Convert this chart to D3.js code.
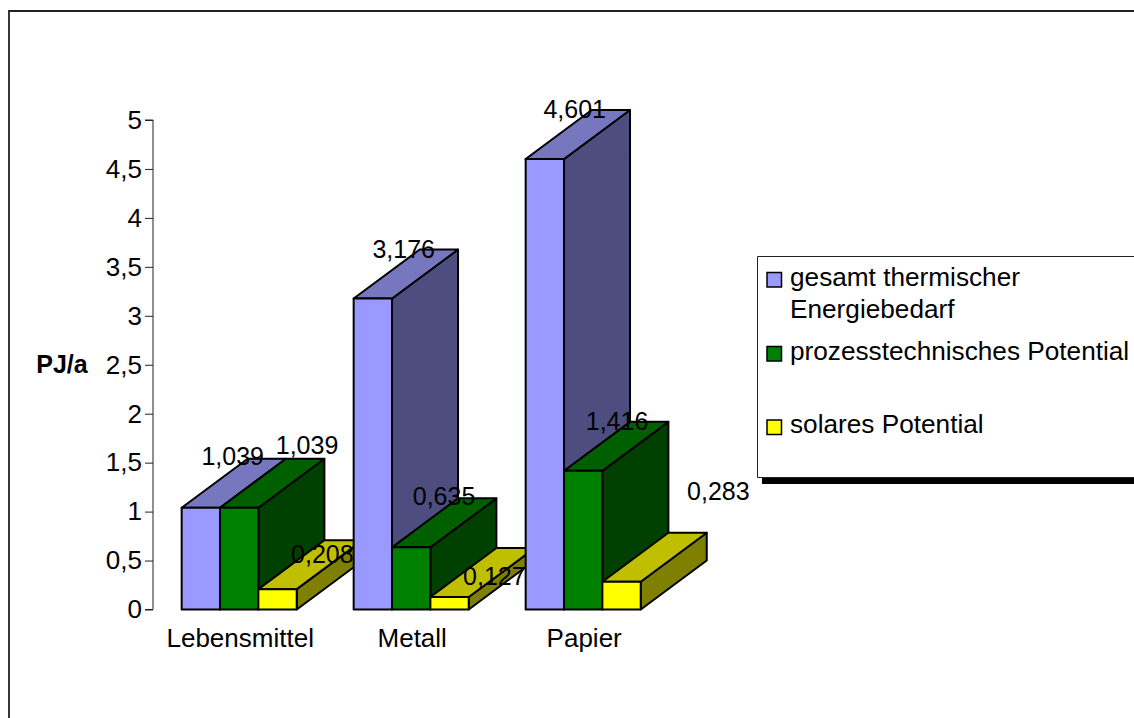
<!DOCTYPE html>
<html>
<head>
<meta charset="utf-8">
<script src="https://cdn.jsdelivr.net/npm/d3@7/dist/d3.min.js"></script>
<style>
html, body { margin: 0; padding: 0; background: #fff; }
svg { display: block; }
text { font-family: "Liberation Sans", Arial, sans-serif; font-size: 25px; fill: #000; }
</style>
</head>
<body>
<svg id="chart" width="1134" height="718"></svg>
<script>
// Thermal energy demand and potentials per industry sector
const categories = ["Lebensmittel", "Metall", "Papier"];
const seriesNames = ["gesamt thermischer Energiebedarf", "prozesstechnisches Potential", "solares Potential"];
const gesamt = [1.039, 3.176, 4.601];
const prozess = [1.039, 0.635, 1.416];
const solar = [0.208, 0.127, 0.283];
const yTicks = [0, 0.5, 1, 1.5, 2, 2.5, 3, 3.5, 4, 4.5, 5];
const yTitle = "PJ/a";

// Face colours of each extruded series: front, top, side
const palette = [
  { front: "#9999ff", top: "#7777bf", side: "#4d4d80" },
  { front: "#008000", top: "#006000", side: "#004000" },
  { front: "#ffff00", top: "#bfbf00", side: "#808000" }
];

// Hand-placed value labels, as offsets from the top-left corner of each bar front
const labelOffsets = [
  [[51, -43], [87, -54], [64, -26]],
  [[50, -41], [52, -42], [64, -12]],
  [[49, -41], [53, -41], [116, -82]]
];

const series = [gesamt, prozess, solar];
const depth = { x: 66, y: 49 };
const stroke = 2;

const svg = d3.select("#chart");
const fmt = v => String(v).replace(".", ",");

// Outer frame
svg.append("path")
  .attr("d", "M9,718V11H1134")
  .attr("fill", "none").attr("stroke", "#222").attr("stroke-width", 1.8);

const x = d3.scaleBand().domain(categories).range([153.2, 669.2])
  .paddingInner(0.331).paddingOuter(0.1655);
const xInner = d3.scaleBand().domain(d3.range(series.length)).range([0, x.bandwidth()]);
const y = d3.scaleLinear().domain([0, 5]).range([609.5, 120]);

// Value axis
const axis = svg.append("g").attr("transform", "translate(153,0)")
  .call(d3.axisLeft(y).tickValues(yTicks).tickSize(8).tickPadding(3).tickFormat(fmt));
axis.selectAll("path, line").attr("stroke", "#222").attr("stroke-width", 1);
axis.select(".domain").attr("d", `M-8,${y(5)}H0V${y(0)}H-8`);
axis.selectAll("text").attr("font-size", null).attr("font-family", null).style("font-size", "26px");

svg.append("text").attr("x", 62).attr("y", 373).attr("text-anchor", "middle")
  .attr("font-weight", "bold").style("font-size", "25px").text(yTitle);

// Extruded bars, left to right so nearer boxes overlap the ones before them
const boxes = categories.flatMap((c, ci) => series.map((s, si) => ({ c, ci, si, v: s[ci] })));
const box = svg.append("g").selectAll("g").data(boxes).join("g")
  .attr("stroke", "#000").attr("stroke-width", stroke).attr("stroke-linejoin", "round");

const geom = d => {
  const x0 = x(d.c) + xInner(d.si), x1 = x0 + xInner.bandwidth();
  return { x0, x1, yt: y(d.v), yb: y(0) };
};
box.append("path").attr("fill", d => palette[d.si].side).attr("d", d => {
  const g = geom(d);
  return `M${g.x1},${g.yb}V${g.yt}l${depth.x},${-depth.y}V${g.yb - depth.y}Z`;
});
box.append("path").attr("fill", d => palette[d.si].top).attr("d", d => {
  const g = geom(d);
  return `M${g.x0},${g.yt}H${g.x1}l${depth.x},${-depth.y}H${g.x0 + depth.x}Z`;
});
box.append("rect").attr("fill", d => palette[d.si].front)
  .attr("x", d => geom(d).x0).attr("y", d => geom(d).yt)
  .attr("width", xInner.bandwidth()).attr("height", d => y(0) - y(d.v));

// Category labels
svg.append("g").selectAll("text").data(categories).join("text")
  .attr("x", d => x(d) + x.bandwidth() / 2 + 1).attr("y", 647)
  .attr("text-anchor", "middle").style("font-size", "26px").text(d => d);

// Value labels sit above everything else
svg.append("g").selectAll("text").data(boxes).join("text")
  .attr("x", d => geom(d).x0 + labelOffsets[d.ci][d.si][0])
  .attr("y", d => geom(d).yt + labelOffsets[d.ci][d.si][1])
  .attr("text-anchor", "middle").text(d => fmt(d.v));

// Legend box with its drop shadow
const legend = svg.append("g");
legend.append("rect").attr("x", 762).attr("y", 477).attr("width", 372).attr("height", 7).attr("fill", "#000");
legend.append("path").attr("d", "M1134,256.5H757.5V477.5H1134")
  .attr("fill", "#fff").attr("stroke", "#222").attr("stroke-width", 1);

const legendRows = [
  { lines: ["gesamt thermischer", "Energiebedarf"], y: 285.5 },
  { lines: ["prozesstechnisches Potential"], y: 359.5 },
  { lines: ["solares Potential"], y: 433 }
];
legendRows.forEach((row, i) => {
  legend.append("rect").attr("x", 767).attr("y", row.y - 13).attr("width", 14.5).attr("height", 14.5)
    .attr("fill", palette[i].front).attr("stroke", "#000").attr("stroke-width", 1.5);
  row.lines.forEach((line, k) => {
    legend.append("text").attr("x", 790).attr("y", row.y + k * 32).style("font-size", "26.2px").text(line);
  });
});
</script>
</body>
</html>
